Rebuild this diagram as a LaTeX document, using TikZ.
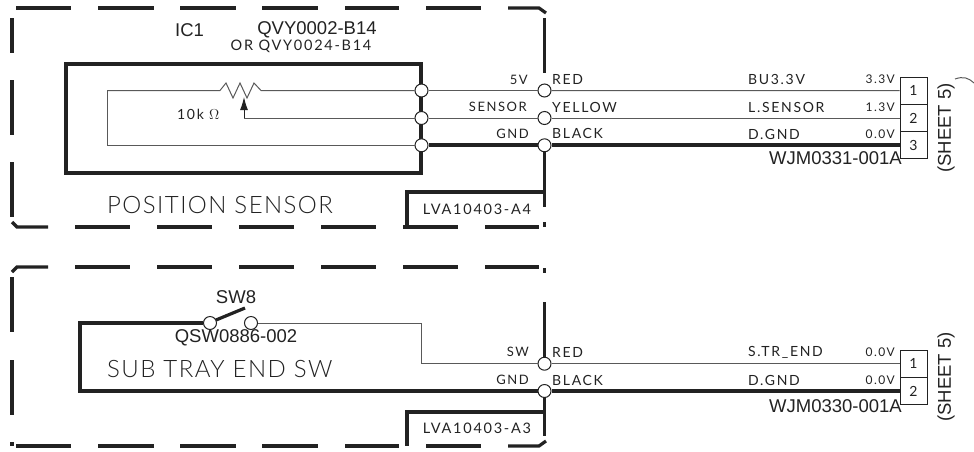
\documentclass[tikz,border=0pt]{standalone}
\usepackage{amsmath}
\usepackage{fontspec}
\usepackage{tikz}
\usetikzlibrary{arrows.meta}
\setmainfont{Liberation Sans}
\newfontfamily\platefont[LetterSpace=6]{Lato Light}
\newfontfamily\wirefont[LetterSpace=12]{Lato}
\definecolor{ink}{HTML}{222222}
\begin{document}
\begin{tikzpicture}[x=1pt, y=-1pt, color=ink]
\tikzstyle{frame} = [line width=3.2pt]
\tikzstyle{wire} = [line width=1pt, color=ink!75]
\tikzstyle{heavy} = [line width=3.8pt]
\tikzstyle{pin} = [circle, draw, fill=white, line width=1pt, minimum size=13pt, inner sep=0pt]
\tikzstyle{cell} = [rectangle, draw, line width=1pt, minimum width=27pt, minimum height=27.3pt, inner sep=0pt, font=\wirefont\fontsize{14}{14}\selectfont]
\tikzstyle{part} = [inner sep=0pt, font=\fontsize{18.5}{18.5}\selectfont]
\tikzstyle{title} = [inner sep=0pt, anchor=west, font=\platefont\fontsize{24}{24}\selectfont]
\tikzstyle{plate} = [inner sep=0pt, font=\wirefont\fontsize{14.5}{14.5}\selectfont]
\tikzstyle{colour} = [inner sep=0pt, anchor=west, font=\wirefont\fontsize{14}{14}\selectfont]
\tikzstyle{signal} = [inner sep=0pt, anchor=east, font=\wirefont\fontsize{13}{13}\selectfont]
\tikzstyle{volt} = [inner sep=0pt, anchor=east, font=\wirefont\fontsize{12}{12}\selectfont]
\useasboundingbox (0,0) rectangle (974,451);

% upper dashed frame
\foreach \a/\b in {16/71,98/154,180/236,262/318,345/399,426/481} \draw[frame] (\a,8) -- (\b,8);
\draw[frame] (508,8) -- (539,8) -- (546,13);
\foreach \a/\b in {18/53,80/135,162/217} \draw[frame] (12,\a) -- (12,\b);
\draw[frame] (12,222) -- (17,227) -- (48,227);
\foreach \a/\b in {75/130,157/212,239/294,321/376,403/458,485/539} \draw[frame] (\a,227) -- (\b,227);
\draw[frame] (544.5,18) -- (544.5,73);
\draw[frame] (544.5,222) -- (544.5,227);

% lower dashed frame
\draw[frame] (12,272) -- (17,267) -- (48,267);
\foreach \a/\b in {75/130,157/212,239/294,321/376,403/458,485/539} \draw[frame] (\a,267) -- (\b,267);
\draw[frame] (544.5,268) -- (544.5,273);
\foreach \a/\b in {277/332,360/415} \draw[frame] (12,\a) -- (12,\b);
\draw[frame] (12,442) -- (12,446);
\foreach \a/\b in {16/71,98/154,180/236,262/318,345/399,426/481} \draw[frame] (\a,446) -- (\b,446);
\draw[frame] (508,446) -- (539,446) -- (546,441);

% sensor block
\node[draw, heavy, minimum width=355pt, minimum height=109pt, inner sep=0pt] (sensor) at (243.5,118.5) {};
\node[pin] (s1) at (421.5,90.5) {};
\node[pin] (s2) at (421.5,118) {};
\node[pin] (s3) at (421.5,145.3) {};
\node[pin] (e1) at (544.5,90.5) {};
\node[pin] (e2) at (544.5,118) {};
\node[pin] (e3) at (544.5,145.3) {};
\node[cell] (c1) at (913.5,90.7) {1};
\node[cell] (c2) at (913.5,118) {2};
\node[cell] (c3) at (913.5,145.3) {3};

\coordinate (potl) at (220,90.5);
\coordinate (potr) at (261,90.5);
\coordinate (wiper) at (244,118);
\coordinate (loopa) at (107,90.5);
\coordinate (loopb) at (107,145.3);
\draw[wire] (loopa) -- (potl) -- (226,83) -- (233,98) -- (240,83) -- (247,98) -- (254,83) -- (potr) -- (s1);
\draw[wire] (loopa) -- (loopb) -- (s3);
\draw[wire] (wiper) -- (s2);
\draw[line width=1pt, -{Latex[length=13pt,width=8pt]}] (wiper) -- (244,97);
\draw[wire] (s1) -- (e1);
\draw[wire] (s2) -- (e2);
\draw[heavy] (s3) -- (e3);
\draw[wire] (e1) -- (c1);
\draw[wire] (e2) -- (c2);
\draw[heavy] (e3) -- (c3);

\coordinate (boxa) at (544.5,192);
\coordinate (boxb) at (407,192);
\coordinate (boxc) at (407,227);
\draw[heavy] (e3) -- (544.5,207);
\draw[heavy] (boxa) -- (boxb) -- (boxc);

% switch block
\node[pin] (k1) at (210,323) {};
\node[pin] (k2) at (251,323) {};
\node[pin] (e4) at (544.5,363.7) {};
\node[pin] (e5) at (544.5,391) {};
\node[cell] (c4) at (913.5,363.7) {1};
\node[cell] (c5) at (913.5,391) {2};
\coordinate (swa) at (80,323);
\coordinate (swb) at (80,391);
\coordinate (swc) at (421,323);
\coordinate (swd) at (421,363.7);
\coordinate (swtop) at (544.5,302);
\draw[heavy] (k1) -- (swa) -- (swb) -- (e5);
\draw[frame] (216,320) -- (245,308);
\draw[wire] (k2) -- (swc) -- (swd) -- (e4);
\draw[wire] (e4) -- (c4);
\draw[heavy] (e5) -- (c5);
\draw[frame] (swtop) -- (e4);
\draw[heavy] (e5) -- (544.5,436);
\coordinate (boxd) at (544.5,412);
\coordinate (boxe) at (407,412);
\coordinate (boxf) at (407,446);
\draw[heavy] (boxd) -- (boxe) -- (boxf);

% texts
\node[part] (ic) at (189.5,30) {IC1};
\node[part] (qvy) at (317,29.5) {QVY0002-B14};
\node[plate] (alt) at (301,46) {OR QVY0024-B14};
\node[title] (postitle) at (107,205) {POSITION SENSOR};
\node[title] (subtitle) at (107,369) {SUB TRAY END SW};
\node[plate] (lvaa) at (477,209) {LVA10403-A4};
\node[plate] (lvab) at (477,428) {LVA10403-A3};
\node[inner sep=0pt, anchor=west, font=\wirefont\fontsize{14}{14}\selectfont] (ohm) at (177,114) {10k $\Omega$};
\node[part] (swn) at (236,297) {SW8};
\node[part] (qsw) at (236,338) {QSW0886-002};

\node[signal] (l5v) at (528,80) {5V};
\node[signal] (lsen) at (527,107) {SENSOR};
\node[signal] (lgnd) at (529,134) {GND};
\node[signal] (lsw) at (529,352) {SW};
\node[signal] (lgndb) at (529,380) {GND};

\node[colour] (red) at (552,79) {RED};
\node[colour] (yel) at (552,107) {YELLOW};
\node[colour] (blk) at (552,133) {BLACK};
\node[colour] (redb) at (552,352) {RED};
\node[colour] (blkb) at (552,380) {BLACK};

\node[colour] (bu) at (748,79) {BU3.3V};
\node[colour] (lsn) at (748,107) {L.SENSOR};
\node[colour] (dg) at (748,134) {D.GND};
\node[colour] (str) at (748,352) {S.TR\_END};
\node[colour] (dgb) at (748,380) {D.GND};

\node[volt] (v1) at (895,79) {3.3V};
\node[volt] (v2) at (895,107) {1.3V};
\node[volt] (v3) at (895,134) {0.0V};
\node[volt] (v4) at (895,352) {0.0V};
\node[volt] (v5) at (895,380) {0.0V};

\node[part, anchor=east] (wjma) at (902,158) {WJM0331-001A};
\node[part, anchor=east] (wjmb) at (902,406) {WJM0330-001A};
\node[part, rotate=90] (sha) at (946,128) {(SHEET 5)};
\node[part, rotate=90] (shb) at (946,377) {(SHEET 5)};
\draw[wire] (955,79) .. controls (963,76) and (969,78) .. (974,83);
\end{tikzpicture}
\end{document}
